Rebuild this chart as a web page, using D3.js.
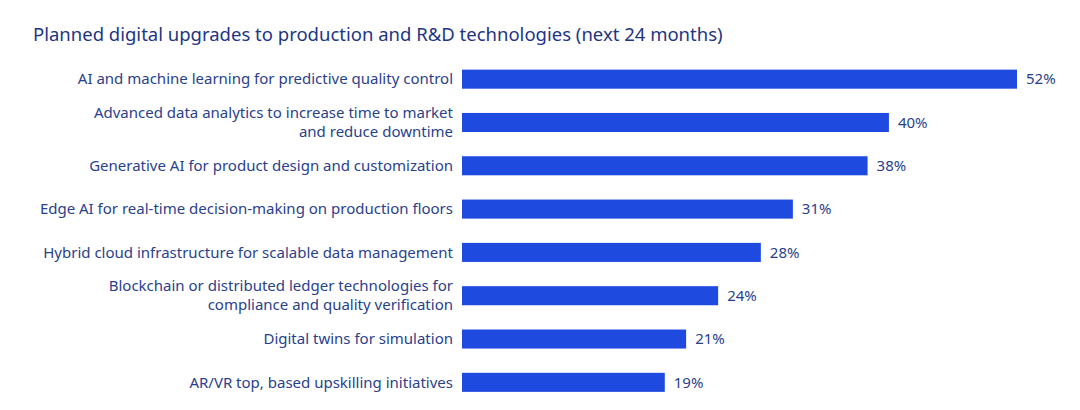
<!DOCTYPE html>
<html><head><meta charset="utf-8">
<script src="https://cdn.jsdelivr.net/npm/d3@7"></script>
<style>body{margin:0;background:#fff}svg{font-family:"Noto Sans",Inter,sans-serif}</style>
</head><body>
<svg id="c" width="1080" height="410"></svg>
<script>
const title = "Planned digital upgrades to production and R&D technologies (next 24 months)";
const categories = [
  ["AI and machine learning for predictive quality control"],
  ["Advanced data analytics to increase time to market","and reduce downtime"],
  ["Generative AI for product design and customization"],
  ["Edge AI for real-time decision-making on production floors"],
  ["Hybrid cloud infrastructure for scalable data management"],
  ["Blockchain or distributed ledger technologies for","compliance and quality verification"],
  ["Digital twins for simulation"],
  ["AR/VR top, based upskilling initiatives"]
];
const values = [52, 40, 38, 31, 28, 24, 21, 19];

const svg = d3.select("#c");
const textColor = "#2a3f8c", barColor = "#1f4ae0";
svg.append("text").attr("x", 33).attr("y", 41).attr("font-size", 18.5)
  .attr("fill", "#1e3585").text(title);

const x = d3.scaleLinear().domain([0, 52]).range([462, 1017]);
const y = d3.scaleBand().domain(d3.range(values.length)).range([57.5, 404]).paddingInner(0.56).paddingOuter(0.28);

const g = svg.append("g");
g.selectAll("rect").data(values).join("rect")
  .attr("x", x(0)).attr("y", (d,i)=>y(i)).attr("width", d=>x(d)-x(0))
  .attr("height", y.bandwidth()).attr("fill", barColor);

g.selectAll("text.v").data(values).join("text").attr("class","v")
  .attr("x", d=>x(d)+9).attr("y", (d,i)=>y(i)+y.bandwidth()/2).attr("dy","0.35em")
  .attr("font-size", 15).attr("fill", textColor).text(d=>d+"%");

categories.forEach((lines,i)=>{
  const cy = y(i)+y.bandwidth()/2;
  const t = g.append("text").attr("text-anchor","end").attr("font-size",15).attr("fill",textColor);
  lines.forEach((l,j)=>{
    t.append("tspan").attr("x",453).attr("y", cy + (j-(lines.length-1)/2)*19).attr("dy","0.35em").text(l);
  });
});
</script>
</body></html>
